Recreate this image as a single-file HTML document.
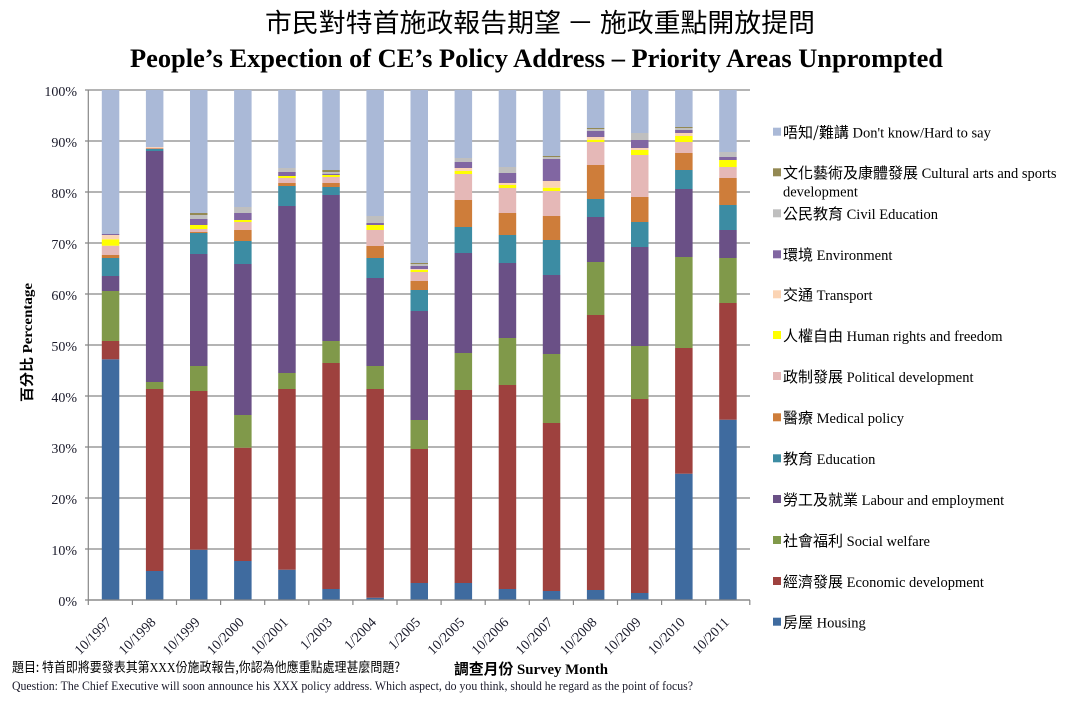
<!DOCTYPE html>
<html>
<head>
<meta charset="utf-8">
<style>
html,body{margin:0;padding:0;background:#fff;}
svg{display:block;}
.s{font-family:"Liberation Serif","Noto Sans CJK TC",serif;}
.c{font-family:"Noto Sans CJK TC","Liberation Sans",sans-serif;}
</style>
</head>
<body>
<svg width="1072" height="707" viewBox="0 0 1072 707" xmlns="http://www.w3.org/2000/svg">
<rect width="1072" height="707" fill="#fff"/>
<!-- Titles -->
<text x="265" y="32" class="c" font-size="26" fill="#000" textLength="550" lengthAdjust="spacingAndGlyphs">市民對特首施政報告期望 － 施政重點開放提問</text>
<text x="130" y="67" class="s" font-size="26" font-weight="bold" fill="#000" textLength="813" lengthAdjust="spacingAndGlyphs">People’s Expection of CE’s Policy Address – Priority Areas Unprompted</text>

<!-- gridlines -->
<g stroke="#878787" stroke-width="1.2">
<line x1="85" y1="90" x2="750" y2="90"/>
<line x1="85" y1="141" x2="750" y2="141"/>
<line x1="85" y1="192" x2="750" y2="192"/>
<line x1="85" y1="243" x2="750" y2="243"/>
<line x1="85" y1="294" x2="750" y2="294"/>
<line x1="85" y1="345" x2="750" y2="345"/>
<line x1="85" y1="396" x2="750" y2="396"/>
<line x1="85" y1="447" x2="750" y2="447"/>
<line x1="85" y1="498" x2="750" y2="498"/>
<line x1="85" y1="549" x2="750" y2="549"/>
<line x1="85" y1="600" x2="750" y2="600"/>
<line x1="88.3" y1="90" x2="88.3" y2="605"/>
<line x1="132.4" y1="600" x2="132.4" y2="605"/>
<line x1="176.5" y1="600" x2="176.5" y2="605"/>
<line x1="220.6" y1="600" x2="220.6" y2="605"/>
<line x1="264.7" y1="600" x2="264.7" y2="605"/>
<line x1="308.8" y1="600" x2="308.8" y2="605"/>
<line x1="352.9" y1="600" x2="352.9" y2="605"/>
<line x1="397" y1="600" x2="397" y2="605"/>
<line x1="441.1" y1="600" x2="441.1" y2="605"/>
<line x1="485.2" y1="600" x2="485.2" y2="605"/>
<line x1="529.3" y1="600" x2="529.3" y2="605"/>
<line x1="573.4" y1="600" x2="573.4" y2="605"/>
<line x1="617.5" y1="600" x2="617.5" y2="605"/>
<line x1="661.6" y1="600" x2="661.6" y2="605"/>
<line x1="705.7" y1="600" x2="705.7" y2="605"/>
<line x1="749.8" y1="600" x2="749.8" y2="605"/>
</g>

<!-- Bars -->
<g transform="translate(101.8,0)">
<rect x="0" width="17.5" y="359.3" height="240.7" fill="#3F6B9F"/>
<rect x="0" width="17.5" y="341" height="18.3" fill="#9E413E"/>
<rect x="0" width="17.5" y="291" height="50" fill="#80994A"/>
<rect x="0" width="17.5" y="276" height="15" fill="#6A5086"/>
<rect x="0" width="17.5" y="258" height="18" fill="#3C8CA3"/>
<rect x="0" width="17.5" y="255" height="3" fill="#CE7D3A"/>
<rect x="0" width="17.5" y="245.7" height="9.3" fill="#E5B8B7"/>
<rect x="0" width="17.5" y="239.3" height="6.4" fill="#FFFF00"/>
<rect x="0" width="17.5" y="235" height="4.3" fill="#FBD4B4"/>
<rect x="0" width="17.5" y="234" height="1" fill="#8166A2"/>
<rect x="0" width="17.5" y="90" height="144" fill="#AAB9D7"/>
</g>
<g transform="translate(145.9,0)">
<rect x="0" width="17.5" y="571" height="29" fill="#3F6B9F"/>
<rect x="0" width="17.5" y="389" height="182" fill="#9E413E"/>
<rect x="0" width="17.5" y="382" height="7" fill="#80994A"/>
<rect x="0" width="17.5" y="151" height="231" fill="#6A5086"/>
<rect x="0" width="17.5" y="149" height="2" fill="#3C8CA3"/>
<rect x="0" width="17.5" y="148.5" height="0.5" fill="#CE7D3A"/>
<rect x="0" width="17.5" y="147.7" height="0.8" fill="#E5B8B7"/>
<rect x="0" width="17.5" y="147" height="0.7" fill="#FBD4B4"/>
<rect x="0" width="17.5" y="90" height="57" fill="#AAB9D7"/>
</g>
<g transform="translate(190,0)">
<rect x="0" width="17.5" y="549.7" height="50.3" fill="#3F6B9F"/>
<rect x="0" width="17.5" y="391" height="158.7" fill="#9E413E"/>
<rect x="0" width="17.5" y="366" height="25" fill="#80994A"/>
<rect x="0" width="17.5" y="254" height="112" fill="#6A5086"/>
<rect x="0" width="17.5" y="233" height="21" fill="#3C8CA3"/>
<rect x="0" width="17.5" y="232" height="1" fill="#CE7D3A"/>
<rect x="0" width="17.5" y="229" height="3" fill="#E5B8B7"/>
<rect x="0" width="17.5" y="225" height="4" fill="#FFFF00"/>
<rect x="0" width="17.5" y="219" height="6" fill="#8166A2"/>
<rect x="0" width="17.5" y="215" height="4" fill="#BFBFBF"/>
<rect x="0" width="17.5" y="213" height="2" fill="#938953"/>
<rect x="0" width="17.5" y="90" height="123" fill="#AAB9D7"/>
</g>
<g transform="translate(234.1,0)">
<rect x="0" width="17.5" y="561" height="39" fill="#3F6B9F"/>
<rect x="0" width="17.5" y="447.7" height="113.3" fill="#9E413E"/>
<rect x="0" width="17.5" y="415" height="32.7" fill="#80994A"/>
<rect x="0" width="17.5" y="264" height="151" fill="#6A5086"/>
<rect x="0" width="17.5" y="241" height="23" fill="#3C8CA3"/>
<rect x="0" width="17.5" y="230" height="11" fill="#CE7D3A"/>
<rect x="0" width="17.5" y="222" height="8" fill="#E5B8B7"/>
<rect x="0" width="17.5" y="220" height="2" fill="#FFFF00"/>
<rect x="0" width="17.5" y="213" height="7" fill="#8166A2"/>
<rect x="0" width="17.5" y="207" height="6" fill="#BFBFBF"/>
<rect x="0" width="17.5" y="90" height="117" fill="#AAB9D7"/>
</g>
<g transform="translate(278.2,0)">
<rect x="0" width="17.5" y="569.7" height="30.3" fill="#3F6B9F"/>
<rect x="0" width="17.5" y="389" height="180.7" fill="#9E413E"/>
<rect x="0" width="17.5" y="373" height="16" fill="#80994A"/>
<rect x="0" width="17.5" y="206" height="167" fill="#6A5086"/>
<rect x="0" width="17.5" y="186" height="20" fill="#3C8CA3"/>
<rect x="0" width="17.5" y="183" height="3" fill="#CE7D3A"/>
<rect x="0" width="17.5" y="178" height="5" fill="#E5B8B7"/>
<rect x="0" width="17.5" y="176" height="2" fill="#FFFF00"/>
<rect x="0" width="17.5" y="172" height="4" fill="#8166A2"/>
<rect x="0" width="17.5" y="168" height="4" fill="#BFBFBF"/>
<rect x="0" width="17.5" y="90" height="78" fill="#AAB9D7"/>
</g>
<g transform="translate(322.3,0)">
<rect x="0" width="17.5" y="589" height="11" fill="#3F6B9F"/>
<rect x="0" width="17.5" y="363" height="226" fill="#9E413E"/>
<rect x="0" width="17.5" y="341" height="22" fill="#80994A"/>
<rect x="0" width="17.5" y="195" height="146" fill="#6A5086"/>
<rect x="0" width="17.5" y="187" height="8" fill="#3C8CA3"/>
<rect x="0" width="17.5" y="183" height="4" fill="#CE7D3A"/>
<rect x="0" width="17.5" y="177" height="6" fill="#E5B8B7"/>
<rect x="0" width="17.5" y="175" height="2" fill="#FFFF00"/>
<rect x="0" width="17.5" y="173.7" height="1.3" fill="#8166A2"/>
<rect x="0" width="17.5" y="172" height="1.7" fill="#BFBFBF"/>
<rect x="0" width="17.5" y="170" height="2" fill="#938953"/>
<rect x="0" width="17.5" y="90" height="80" fill="#AAB9D7"/>
</g>
<g transform="translate(366.4,0)">
<rect x="0" width="17.5" y="597.7" height="2.3" fill="#3F6B9F"/>
<rect x="0" width="17.5" y="389" height="208.7" fill="#9E413E"/>
<rect x="0" width="17.5" y="366" height="23" fill="#80994A"/>
<rect x="0" width="17.5" y="278" height="88" fill="#6A5086"/>
<rect x="0" width="17.5" y="258" height="20" fill="#3C8CA3"/>
<rect x="0" width="17.5" y="246" height="12" fill="#CE7D3A"/>
<rect x="0" width="17.5" y="230" height="16" fill="#E5B8B7"/>
<rect x="0" width="17.5" y="225" height="5" fill="#FFFF00"/>
<rect x="0" width="17.5" y="223" height="2" fill="#8166A2"/>
<rect x="0" width="17.5" y="216" height="7" fill="#BFBFBF"/>
<rect x="0" width="17.5" y="90" height="126" fill="#AAB9D7"/>
</g>
<g transform="translate(410.5,0)">
<rect x="0" width="17.5" y="583" height="17" fill="#3F6B9F"/>
<rect x="0" width="17.5" y="449" height="134" fill="#9E413E"/>
<rect x="0" width="17.5" y="420" height="29" fill="#80994A"/>
<rect x="0" width="17.5" y="311" height="109" fill="#6A5086"/>
<rect x="0" width="17.5" y="290" height="21" fill="#3C8CA3"/>
<rect x="0" width="17.5" y="281" height="9" fill="#CE7D3A"/>
<rect x="0" width="17.5" y="272" height="9" fill="#E5B8B7"/>
<rect x="0" width="17.5" y="270" height="2" fill="#FFFF00"/>
<rect x="0" width="17.5" y="269" height="1" fill="#FBD4B4"/>
<rect x="0" width="17.5" y="266" height="3" fill="#8166A2"/>
<rect x="0" width="17.5" y="264" height="2" fill="#BFBFBF"/>
<rect x="0" width="17.5" y="263" height="1" fill="#938953"/>
<rect x="0" width="17.5" y="90" height="173" fill="#AAB9D7"/>
</g>
<g transform="translate(454.6,0)">
<rect x="0" width="17.5" y="583" height="17" fill="#3F6B9F"/>
<rect x="0" width="17.5" y="390" height="193" fill="#9E413E"/>
<rect x="0" width="17.5" y="353" height="37" fill="#80994A"/>
<rect x="0" width="17.5" y="253" height="100" fill="#6A5086"/>
<rect x="0" width="17.5" y="227" height="26" fill="#3C8CA3"/>
<rect x="0" width="17.5" y="200" height="27" fill="#CE7D3A"/>
<rect x="0" width="17.5" y="174" height="26" fill="#E5B8B7"/>
<rect x="0" width="17.5" y="171" height="3" fill="#FFFF00"/>
<rect x="0" width="17.5" y="168" height="3" fill="#FBD4B4"/>
<rect x="0" width="17.5" y="162" height="6" fill="#8166A2"/>
<rect x="0" width="17.5" y="158" height="4" fill="#BFBFBF"/>
<rect x="0" width="17.5" y="90" height="68" fill="#AAB9D7"/>
</g>
<g transform="translate(498.7,0)">
<rect x="0" width="17.5" y="589" height="11" fill="#3F6B9F"/>
<rect x="0" width="17.5" y="385" height="204" fill="#9E413E"/>
<rect x="0" width="17.5" y="338" height="47" fill="#80994A"/>
<rect x="0" width="17.5" y="263" height="75" fill="#6A5086"/>
<rect x="0" width="17.5" y="235" height="28" fill="#3C8CA3"/>
<rect x="0" width="17.5" y="213" height="22" fill="#CE7D3A"/>
<rect x="0" width="17.5" y="188" height="25" fill="#E5B8B7"/>
<rect x="0" width="17.5" y="185" height="3" fill="#FFFF00"/>
<rect x="0" width="17.5" y="183" height="2" fill="#FBD4B4"/>
<rect x="0" width="17.5" y="173" height="10" fill="#8166A2"/>
<rect x="0" width="17.5" y="167" height="6" fill="#BFBFBF"/>
<rect x="0" width="17.5" y="90" height="77" fill="#AAB9D7"/>
</g>
<g transform="translate(542.8,0)">
<rect x="0" width="17.5" y="591" height="9" fill="#3F6B9F"/>
<rect x="0" width="17.5" y="423" height="168" fill="#9E413E"/>
<rect x="0" width="17.5" y="354" height="69" fill="#80994A"/>
<rect x="0" width="17.5" y="275" height="79" fill="#6A5086"/>
<rect x="0" width="17.5" y="240" height="35" fill="#3C8CA3"/>
<rect x="0" width="17.5" y="216" height="24" fill="#CE7D3A"/>
<rect x="0" width="17.5" y="191" height="25" fill="#E5B8B7"/>
<rect x="0" width="17.5" y="187.7" height="3.3" fill="#FFFF00"/>
<rect x="0" width="17.5" y="181" height="6.7" fill="#FBD4B4"/>
<rect x="0" width="17.5" y="159" height="22" fill="#8166A2"/>
<rect x="0" width="17.5" y="157" height="2" fill="#BFBFBF"/>
<rect x="0" width="17.5" y="156" height="1" fill="#938953"/>
<rect x="0" width="17.5" y="90" height="66" fill="#AAB9D7"/>
</g>
<g transform="translate(586.9,0)">
<rect x="0" width="17.5" y="590" height="10" fill="#3F6B9F"/>
<rect x="0" width="17.5" y="315" height="275" fill="#9E413E"/>
<rect x="0" width="17.5" y="262" height="53" fill="#80994A"/>
<rect x="0" width="17.5" y="217" height="45" fill="#6A5086"/>
<rect x="0" width="17.5" y="199" height="18" fill="#3C8CA3"/>
<rect x="0" width="17.5" y="165" height="34" fill="#CE7D3A"/>
<rect x="0" width="17.5" y="142" height="23" fill="#E5B8B7"/>
<rect x="0" width="17.5" y="139.7" height="2.3" fill="#FFFF00"/>
<rect x="0" width="17.5" y="137" height="2.7" fill="#FBD4B4"/>
<rect x="0" width="17.5" y="131" height="6" fill="#8166A2"/>
<rect x="0" width="17.5" y="129" height="2" fill="#BFBFBF"/>
<rect x="0" width="17.5" y="128" height="1" fill="#938953"/>
<rect x="0" width="17.5" y="90" height="38" fill="#AAB9D7"/>
</g>
<g transform="translate(631,0)">
<rect x="0" width="17.5" y="593" height="7" fill="#3F6B9F"/>
<rect x="0" width="17.5" y="399" height="194" fill="#9E413E"/>
<rect x="0" width="17.5" y="346" height="53" fill="#80994A"/>
<rect x="0" width="17.5" y="247" height="99" fill="#6A5086"/>
<rect x="0" width="17.5" y="222" height="25" fill="#3C8CA3"/>
<rect x="0" width="17.5" y="197" height="25" fill="#CE7D3A"/>
<rect x="0" width="17.5" y="155" height="42" fill="#E5B8B7"/>
<rect x="0" width="17.5" y="150" height="5" fill="#FFFF00"/>
<rect x="0" width="17.5" y="148" height="2" fill="#FBD4B4"/>
<rect x="0" width="17.5" y="140" height="8" fill="#8166A2"/>
<rect x="0" width="17.5" y="133" height="7" fill="#BFBFBF"/>
<rect x="0" width="17.5" y="90" height="43" fill="#AAB9D7"/>
</g>
<g transform="translate(675.1,0)">
<rect x="0" width="17.5" y="473.7" height="126.3" fill="#3F6B9F"/>
<rect x="0" width="17.5" y="348" height="125.7" fill="#9E413E"/>
<rect x="0" width="17.5" y="257" height="91" fill="#80994A"/>
<rect x="0" width="17.5" y="189" height="68" fill="#6A5086"/>
<rect x="0" width="17.5" y="170" height="19" fill="#3C8CA3"/>
<rect x="0" width="17.5" y="153" height="17" fill="#CE7D3A"/>
<rect x="0" width="17.5" y="142" height="11" fill="#E5B8B7"/>
<rect x="0" width="17.5" y="136" height="6" fill="#FFFF00"/>
<rect x="0" width="17.5" y="133" height="3" fill="#FBD4B4"/>
<rect x="0" width="17.5" y="130" height="3" fill="#8166A2"/>
<rect x="0" width="17.5" y="128" height="2" fill="#BFBFBF"/>
<rect x="0" width="17.5" y="127" height="1" fill="#938953"/>
<rect x="0" width="17.5" y="90" height="37" fill="#AAB9D7"/>
</g>
<g transform="translate(719.2,0)">
<rect x="0" width="17.5" y="419.7" height="180.3" fill="#3F6B9F"/>
<rect x="0" width="17.5" y="303" height="116.7" fill="#9E413E"/>
<rect x="0" width="17.5" y="258" height="45" fill="#80994A"/>
<rect x="0" width="17.5" y="230" height="28" fill="#6A5086"/>
<rect x="0" width="17.5" y="205" height="25" fill="#3C8CA3"/>
<rect x="0" width="17.5" y="178" height="27" fill="#CE7D3A"/>
<rect x="0" width="17.5" y="167" height="11" fill="#E5B8B7"/>
<rect x="0" width="17.5" y="160" height="7" fill="#FFFF00"/>
<rect x="0" width="17.5" y="157" height="3" fill="#8166A2"/>
<rect x="0" width="17.5" y="152" height="5" fill="#BFBFBF"/>
<rect x="0" width="17.5" y="90" height="62" fill="#AAB9D7"/>
</g>

<line x1="88.3" y1="600" x2="750" y2="600" stroke="#878787" stroke-width="1.2"/>

<!-- Y labels -->
<g class="s" font-size="14" fill="#1a1a2a" text-anchor="end">
<text x="77" y="96">100%</text>
<text x="77" y="147">90%</text>
<text x="77" y="198">80%</text>
<text x="77" y="249">70%</text>
<text x="77" y="300">60%</text>
<text x="77" y="351">50%</text>
<text x="77" y="402">40%</text>
<text x="77" y="453">30%</text>
<text x="77" y="504">20%</text>
<text x="77" y="555">10%</text>
<text x="77" y="606">0%</text>
</g>

<text transform="translate(32,402) rotate(-90)" class="s" font-size="14" font-weight="bold" fill="#000" textLength="119" lengthAdjust="spacingAndGlyphs"><tspan class="c">百分比</tspan> Percentage</text>

<!-- X labels -->
<g class="s" font-size="14" fill="#1a1a2a" text-anchor="end">
<text transform="translate(112.5,623) rotate(-45)">10/1997</text>
<text transform="translate(156.6,623) rotate(-45)">10/1998</text>
<text transform="translate(200.7,623) rotate(-45)">10/1999</text>
<text transform="translate(244.8,623) rotate(-45)">10/2000</text>
<text transform="translate(288.9,623) rotate(-45)">10/2001</text>
<text transform="translate(333,623) rotate(-45)">1/2003</text>
<text transform="translate(377.1,623) rotate(-45)">1/2004</text>
<text transform="translate(421.2,623) rotate(-45)">1/2005</text>
<text transform="translate(465.3,623) rotate(-45)">10/2005</text>
<text transform="translate(509.4,623) rotate(-45)">10/2006</text>
<text transform="translate(553.5,623) rotate(-45)">10/2007</text>
<text transform="translate(597.6,623) rotate(-45)">10/2008</text>
<text transform="translate(641.7,623) rotate(-45)">10/2009</text>
<text transform="translate(685.8,623) rotate(-45)">10/2010</text>
<text transform="translate(729.9,623) rotate(-45)">10/2011</text>
</g>

<!-- Legend -->
<g font-size="14.5" fill="#000">
<rect x="773" y="127.7" width="8" height="8" fill="#AAB9D7"/>
<text x="783" y="137.5" class="s"><tspan class="c" font-size="15">唔知/難講</tspan> Don't know/Hard to say</text>
<rect x="773" y="168.3" width="8" height="8" fill="#938953"/>
<text x="783" y="178" class="s"><tspan class="c" font-size="15">文化藝術及康體發展</tspan> Cultural arts and sports</text>
<text x="783" y="196.5" class="s">development</text>
<rect x="773" y="209.3" width="8" height="8" fill="#BFBFBF"/>
<text x="783" y="219" class="s"><tspan class="c" font-size="15">公民教育</tspan> Civil Education</text>
<rect x="773" y="250.3" width="8" height="8" fill="#8166A2"/>
<text x="783" y="260" class="s"><tspan class="c" font-size="15">環境</tspan> Environment</text>
<rect x="773" y="290.3" width="8" height="8" fill="#FBD4B4"/>
<text x="783" y="300" class="s"><tspan class="c" font-size="15">交通</tspan> Transport</text>
<rect x="773" y="331" width="8" height="8" fill="#FFFF00"/>
<text x="783" y="340.8" class="s"><tspan class="c" font-size="15">人權自由</tspan> Human rights and freedom</text>
<rect x="773" y="372" width="8" height="8" fill="#E5B8B7"/>
<text x="783" y="381.8" class="s"><tspan class="c" font-size="15">政制發展</tspan> Political development</text>
<rect x="773" y="413.3" width="8" height="8" fill="#CE7D3A"/>
<text x="783" y="423" class="s"><tspan class="c" font-size="15">醫療</tspan> Medical policy</text>
<rect x="773" y="454.3" width="8" height="8" fill="#3C8CA3"/>
<text x="783" y="464" class="s"><tspan class="c" font-size="15">教育</tspan> Education</text>
<rect x="773" y="495" width="8" height="8" fill="#6A5086"/>
<text x="783" y="504.8" class="s"><tspan class="c" font-size="15">勞工及就業</tspan> Labour and employment</text>
<rect x="773" y="536" width="8" height="8" fill="#80994A"/>
<text x="783" y="545.8" class="s"><tspan class="c" font-size="15">社會福利</tspan> Social welfare</text>
<rect x="773" y="577" width="8" height="8" fill="#9E413E"/>
<text x="783" y="586.8" class="s"><tspan class="c" font-size="15">經濟發展</tspan> Economic development</text>
<rect x="773" y="617.7" width="8" height="8" fill="#3F6B9F"/>
<text x="783" y="627.5" class="s"><tspan class="c" font-size="15">房屋</tspan> Housing</text>
</g>

<!-- Bottom texts -->
<text x="12" y="672" class="c" font-size="13.5" fill="#000" textLength="388" lengthAdjust="spacingAndGlyphs">題目: 特首即將要發表其第<tspan class="s">XXX</tspan>份施政報告,你認為他應重點處理甚麼問題?</text>
<text x="454" y="674" class="s" font-size="15" font-weight="bold" fill="#000" textLength="154" lengthAdjust="spacingAndGlyphs"><tspan class="c">調查月份</tspan> Survey Month</text>
<text x="12" y="690" class="s" font-size="13" fill="#1a1a2a" textLength="681" lengthAdjust="spacingAndGlyphs">Question: The Chief Executive will soon announce his XXX policy address. Which aspect, do you think, should he regard as the point of focus?</text>
</svg>
</body>
</html>
